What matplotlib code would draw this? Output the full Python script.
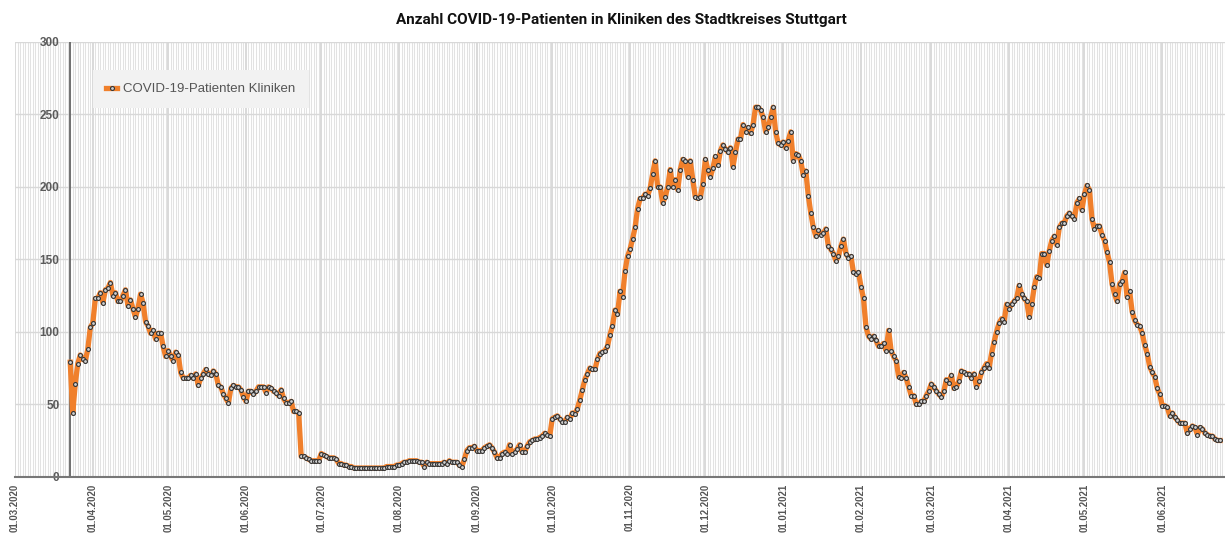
import matplotlib
matplotlib.use("Agg")
import matplotlib.pyplot as plt
import matplotlib.dates as mdates
import pandas as pd

# daily counts, first value is 23.03.2020
first_day = "2020-03-23"

wave1 = [79, 44, 64, 78, 84, 81, 80, 88, 103, 106,
         123, 123, 127, 120, 129, 130, 134, 125, 127, 121,
         121, 125, 129, 118, 122, 116, 110, 116, 126, 120,
         107, 104, 99, 101, 95, 99, 99, 90, 83, 87,
         83, 80, 86, 84, 72, 68, 68, 68, 70, 68,
         71, 63, 68, 71, 74, 71, 70, 73, 71, 63,
         62, 57, 54, 51, 61, 63, 62, 62, 60, 55,
         52, 59, 59, 57, 59, 62, 62, 62, 58, 62,
         61, 59, 58, 56, 60, 54, 51, 51, 52, 45,
         45, 44]

summer = [14, 14, 13, 12, 11, 11, 11, 11,
          16, 15, 14, 13, 13, 13, 12,
          9, 9, 8, 8, 7, 7, 6, 6,
          6, 6, 6, 6, 6, 6, 6, 6, 6, 6, 6,
          7, 7, 7, 7, 8, 8,
          9, 10, 10, 11, 11, 11, 11, 10, 10,
          7, 10,
          9, 9, 9, 9, 9, 9, 10, 9,
          11, 10, 10, 10, 8,
          7,
          12, 18, 20, 20, 21, 18, 18, 18, 20, 21,
          22, 20, 17, 13, 13, 16, 17, 16, 22, 16,
          17, 19, 22, 17, 17, 21,
          24, 25, 26, 26, 27, 28, 30, 29, 28]

autumn = [40, 41, 42, 40, 38, 38, 41, 40, 44, 43,
          47, 53, 60, 67, 71, 75, 74, 74, 81, 85,
          86, 87, 90, 98, 104, 115, 112, 128, 124, 142,
          152, 157, 164, 172, 185, 192, 192, 195, 194, 199]

winter = [209, 218, 200, 200, 189, 193, 200, 212, 200, 205,
          198, 212, 219, 218, 207, 218, 205, 193, 192, 193,
          202, 219, 212, 207, 213, 221, 215, 225, 229, 226,
          224, 227, 214, 224, 233, 233, 243, 238, 241, 237,
          243, 255, 255, 253, 248, 238, 241, 248, 255, 238,
          230,
          229, 231, 227, 232, 238, 218, 223, 222, 218, 208,
          211, 194, 182, 172, 166, 170, 167, 168, 171, 159,
          157, 154, 149, 152, 159, 164, 154, 151, 152, 141,
          140, 141, 131, 123, 103, 97, 95, 97, 94, 90,
          90, 92, 87, 101, 87, 83, 80]

spring = [69, 68, 72, 68, 62, 56, 56, 50, 50, 52,
          52, 56, 59, 64, 62, 59, 57, 55, 59, 67,
          65, 70, 61, 62, 66, 73, 72, 71, 71, 68,
          71, 62, 66, 72, 75, 78,
          75, 85, 93, 100, 106, 109, 107, 119, 116, 119,
          121, 123, 132, 126, 123, 121, 110, 119, 131, 138,
          137, 154, 154, 146, 156, 163, 166, 160, 172, 175,
          175, 180, 182, 180, 178, 189, 192, 184, 195, 201,
          198, 178, 171, 173, 173, 167, 163, 155, 148, 133,
          126, 121, 133, 135, 141, 124, 128, 114, 108, 105,
          104, 99, 91, 85, 76, 72, 69, 61, 57, 49,
          49, 48, 42, 44, 41, 39, 37, 37, 37, 30,
          33, 35, 34, 29, 34, 33, 30, 29, 28, 28,
          26, 25, 25]

patients = wave1 + summer + autumn + winter + spring
dates = pd.date_range(first_day, periods=len(patients), freq="D")

fig = plt.figure(figsize=(12.25, 5.33), dpi=100)
ax = fig.add_axes([15 / 1225, 56.3 / 533, 1 - 15 / 1225, 434.7 / 533])

ax.plot(dates, patients, color="#f0802c", lw=3.8, solid_joinstyle="round",
        marker="o", ms=2.8, mfc="#d0d0d0", mec="#333333", mew=0.8,
        label="COVID-19-Patienten Kliniken", zorder=3)

# dark line at first data day
ax.axvline(dates[0], color="#666666", lw=1.3, zorder=2)

x0 = pd.Timestamp("2020-03-01")
ax.set_xlim(x0, x0 + pd.Timedelta(days=482))
ax.set_ylim(0, 300)
ax.set_yticks(range(0, 301, 50))

ax.xaxis.set_major_locator(mdates.MonthLocator(bymonthday=1))
ax.xaxis.set_minor_locator(mdates.DayLocator())
ax.xaxis.set_major_formatter(mdates.DateFormatter("%d.%m.%Y"))

ax.grid(axis="x", which="minor", color="#e2e2e2", lw=0.75, zorder=0)
ax.grid(axis="x", which="major", color="#d0d0d0", lw=1.1, zorder=0)
ax.grid(axis="y", which="major", color="#d8d8d8", lw=1.0, zorder=0)
ax.set_axisbelow(True)

for s in ["top", "right", "left"]:
    ax.spines[s].set_visible(False)
ax.spines["bottom"].set_color("#777777")
ax.spines["bottom"].set_linewidth(1.5)

ax.tick_params(axis="x", which="both", length=0, pad=5)
ax.tick_params(axis="y", length=0, pad=-32)
for lbl in ax.get_xticklabels():
    lbl.set_rotation(90)
    lbl.set_fontsize(6.9)
    lbl.set_fontweight("bold")
    lbl.set_color("#555555")
    lbl.set_family("Liberation Sans")
for lbl in ax.get_yticklabels():
    lbl.set_fontsize(8.5)
    lbl.set_fontweight("bold")
    lbl.set_color("#5a5a5a")
    lbl.set_family("Liberation Sans")
    lbl.set_horizontalalignment("right")

leg = ax.legend(loc="upper left", bbox_to_anchor=(0.0645, 0.936), borderaxespad=0,
                frameon=True, fancybox=False, handlelength=0.8, handletextpad=0.5,
                borderpad=1.0, prop={"family": "Liberation Sans", "size": 9.5})
leg.get_frame().set_facecolor("#f2f2f2")
leg.get_frame().set_edgecolor("none")
leg.get_frame().set_alpha(1)
for t in leg.get_texts():
    t.set_color("#555555")

fig.text(0.507, 0.962, "Anzahl COVID-19-Patienten in Kliniken des Stadtkreises Stuttgart",
         ha="center", va="center", fontsize=11, fontweight="bold", family="Roboto",
         color="#111111")

fig.savefig("out.png", dpi=100)
